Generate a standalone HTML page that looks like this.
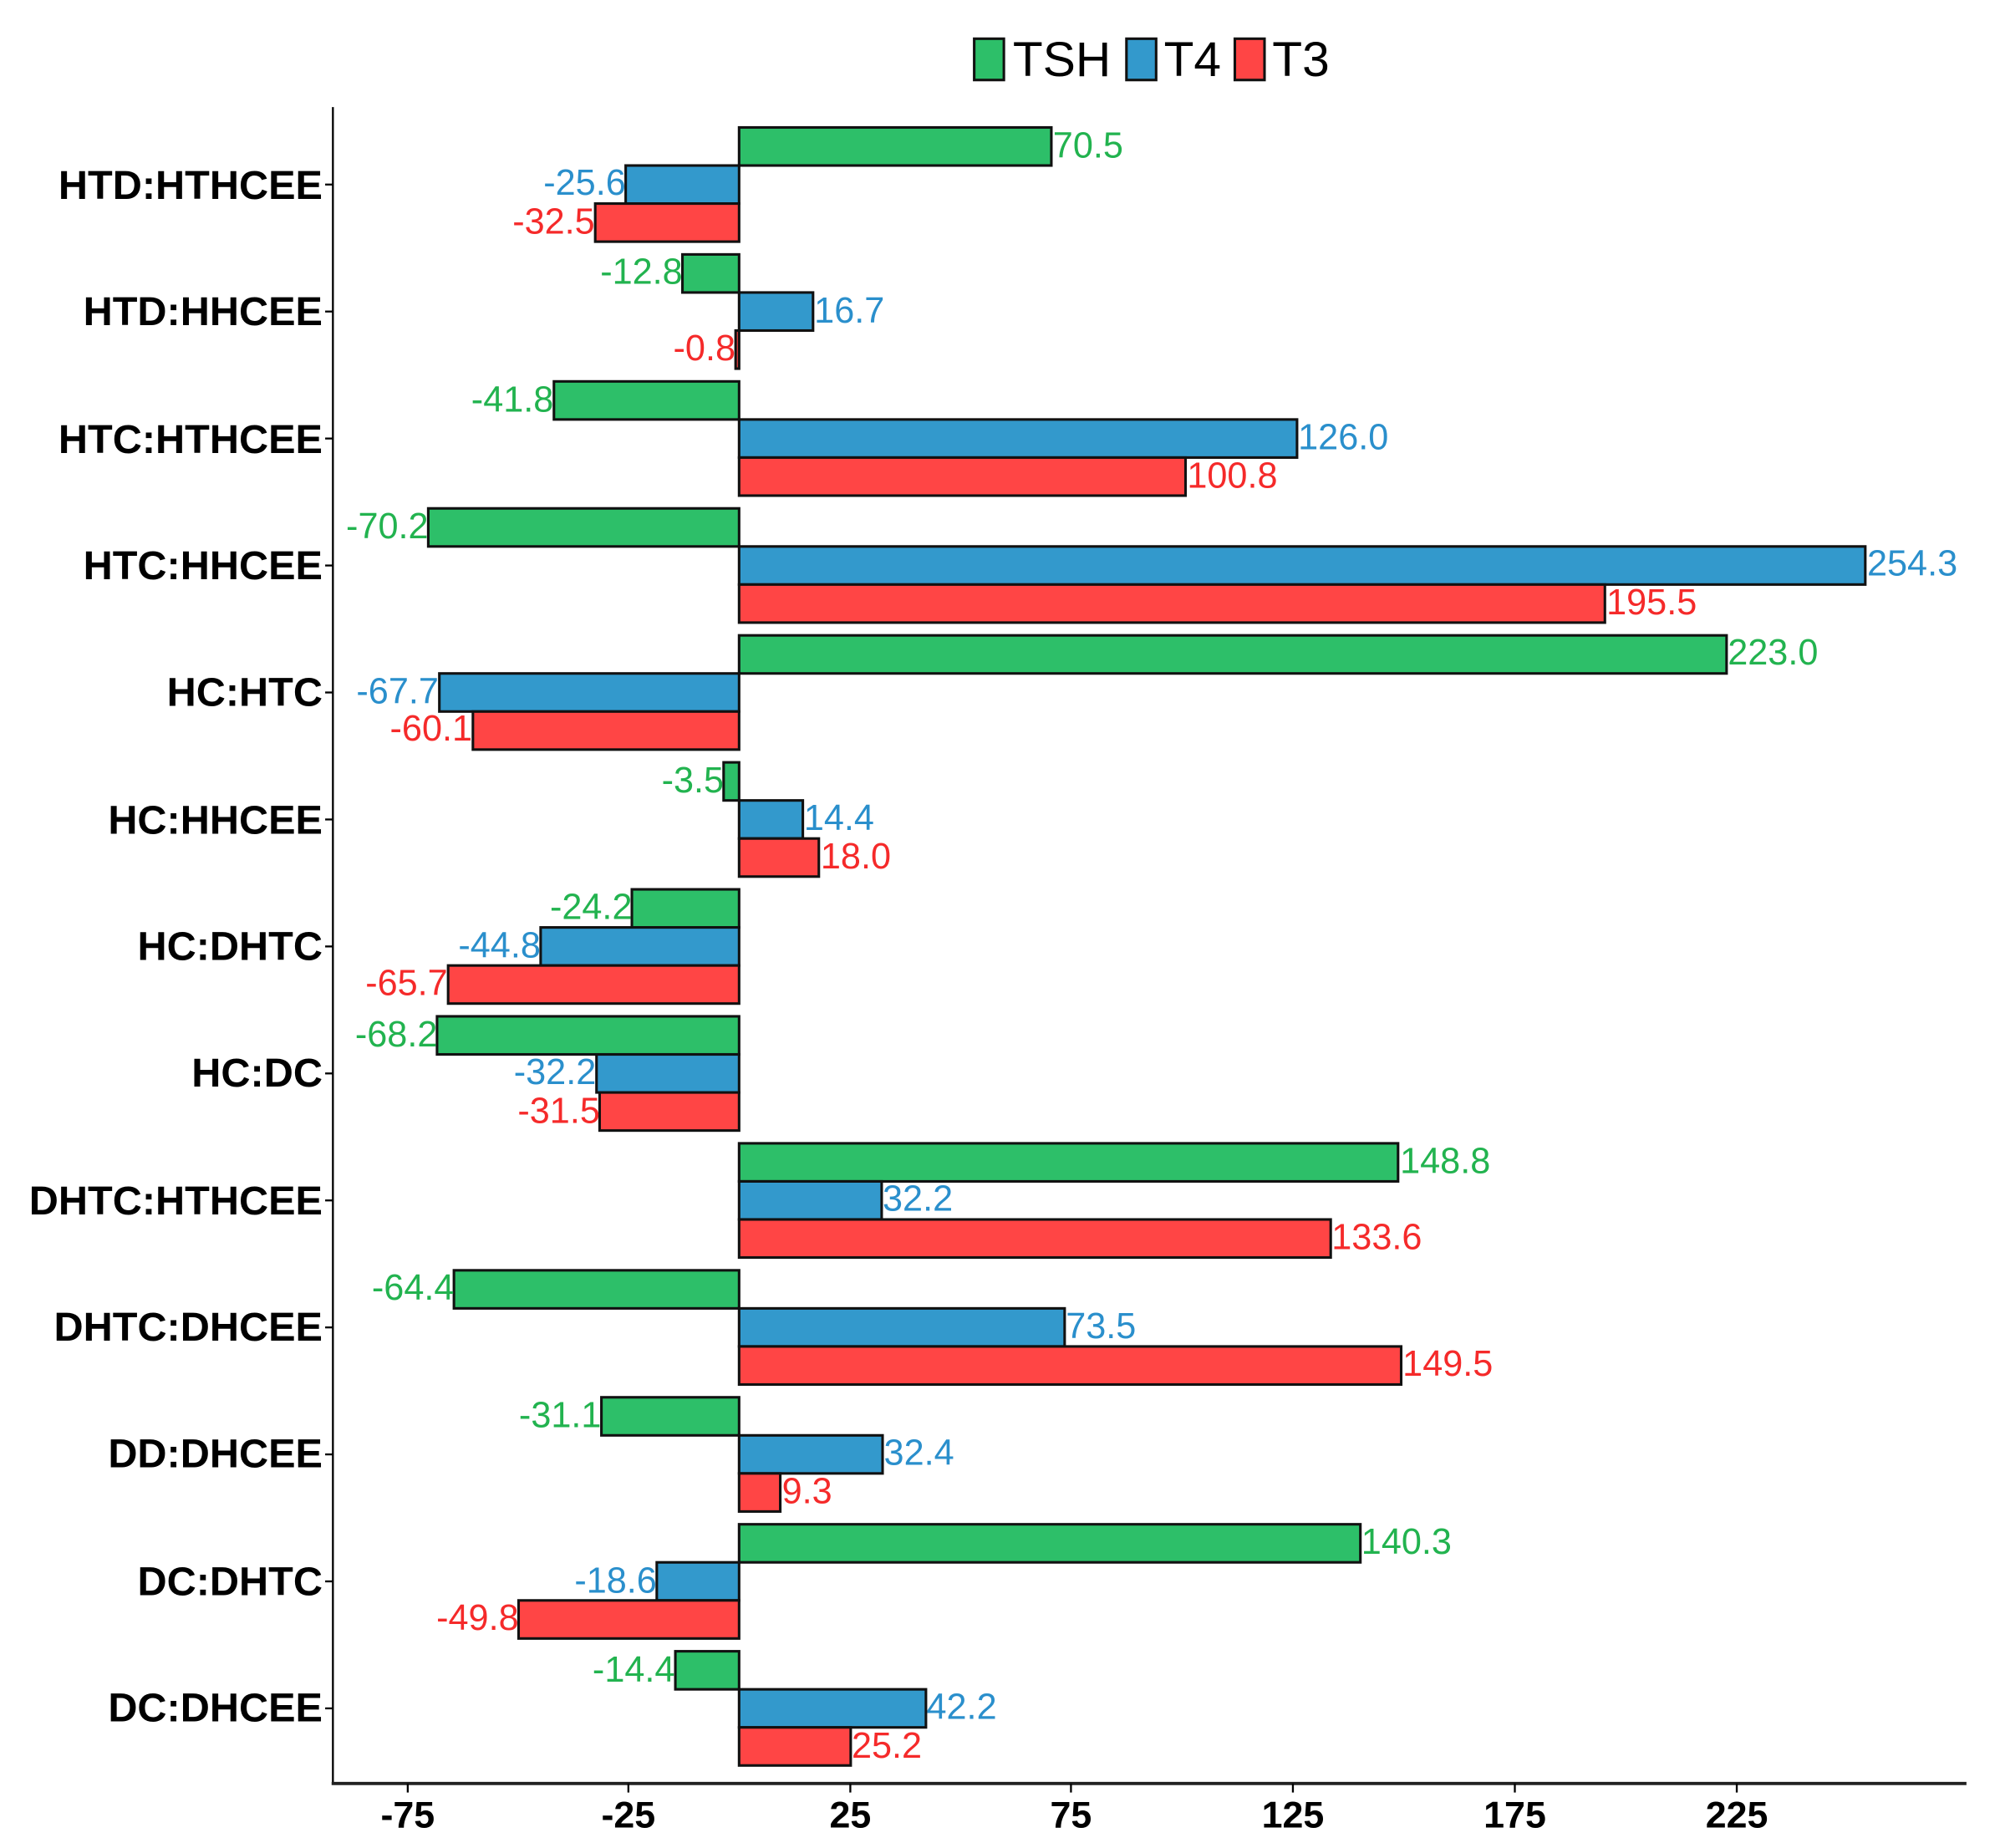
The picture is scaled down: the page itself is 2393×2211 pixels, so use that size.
<!DOCTYPE html>
<html><head><meta charset="utf-8"><style>
html,body{margin:0;padding:0;background:#fff;}
svg{display:block;}
.c{font-family:"Liberation Sans",sans-serif;font-weight:bold;font-size:31.5px;fill:#000;text-anchor:end;}
.t{font-family:"Liberation Sans",sans-serif;font-weight:bold;font-size:29px;fill:#000;text-anchor:middle;}
.v{font-family:"Liberation Sans",sans-serif;font-size:28px;}
.g{fill:#22b34f}.b{fill:#2a8fcc}.r{fill:#f52a2a}
.e{text-anchor:end}
rect{stroke:#111;stroke-width:2;}
.G{fill:#2dbf69}.B{fill:#3399cc}.R{fill:#ff4545}
</style></head><body>
<svg width="2393" height="2211" viewBox="0 0 1550 1432" preserveAspectRatio="none" xmlns="http://www.w3.org/2000/svg">
<rect class="G" x="755" y="30" width="23" height="32"/>
<text x="785" y="59" style="font-family:'Liberation Sans',sans-serif;font-size:38px">TSH</text>
<rect class="B" x="873" y="30" width="23" height="32"/>
<text x="902" y="59" style="font-family:'Liberation Sans',sans-serif;font-size:38px">T4</text>
<rect class="R" x="957" y="30" width="23" height="32"/>
<text x="986" y="59" style="font-family:'Liberation Sans',sans-serif;font-size:38px">T3</text>
<line x1="258" y1="83" x2="258" y2="1383" stroke="#000" stroke-width="1.5"/>
<line x1="257" y1="1382" x2="1524" y2="1382" stroke="#222" stroke-width="2.5"/>
<g stroke="#000" stroke-width="1.5">
<line x1="316" y1="1382" x2="316" y2="1389"/><line x1="487" y1="1382" x2="487" y2="1389"/><line x1="659" y1="1382" x2="659" y2="1389"/><line x1="830" y1="1382" x2="830" y2="1389"/><line x1="1002" y1="1382" x2="1002" y2="1389"/><line x1="1174" y1="1382" x2="1174" y2="1389"/><line x1="1346" y1="1382" x2="1346" y2="1389"/>
<line x1="252" y1="143" x2="258" y2="143"/><line x1="252" y1="241.4" x2="258" y2="241.4"/><line x1="252" y1="339.8" x2="258" y2="339.8"/><line x1="252" y1="438.2" x2="258" y2="438.2"/><line x1="252" y1="536.6" x2="258" y2="536.6"/><line x1="252" y1="635" x2="258" y2="635"/><line x1="252" y1="733.4" x2="258" y2="733.4"/><line x1="252" y1="831.8" x2="258" y2="831.8"/><line x1="252" y1="930.2" x2="258" y2="930.2"/><line x1="252" y1="1028.6" x2="258" y2="1028.6"/><line x1="252" y1="1127" x2="258" y2="1127"/><line x1="252" y1="1225.4" x2="258" y2="1225.4"/><line x1="252" y1="1323.8" x2="258" y2="1323.8"/>
</g>
<text class="t" x="316" y="1416">-75</text><text class="t" x="487" y="1416">-25</text><text class="t" x="659" y="1416">25</text><text class="t" x="830" y="1416">75</text><text class="t" x="1002" y="1416">125</text><text class="t" x="1174" y="1416">175</text><text class="t" x="1346" y="1416">225</text>
<text class="c" x="250" y="154">HTD:HTHCEE</text>
<text class="c" x="250" y="252">HTD:HHCEE</text>
<text class="c" x="250" y="351">HTC:HTHCEE</text>
<text class="c" x="250" y="449">HTC:HHCEE</text>
<text class="c" x="250" y="547">HC:HTC</text>
<text class="c" x="250" y="646">HC:HHCEE</text>
<text class="c" x="250" y="744">HC:DHTC</text>
<text class="c" x="250" y="842">HC:DC</text>
<text class="c" x="250" y="941">DHTC:HTHCEE</text>
<text class="c" x="250" y="1039">DHTC:DHCEE</text>
<text class="c" x="250" y="1137">DD:DHCEE</text>
<text class="c" x="250" y="1236">DC:DHTC</text>
<text class="c" x="250" y="1334">DC:DHCEE</text>
<rect class="G" x="572.8" y="98.75" width="242" height="29.5"/><text class="v g" x="816" y="122">70.5</text>
<rect class="B" x="484.9" y="128.25" width="87.9" height="29.5"/><text class="v b e" x="485" y="151">-25.6</text>
<rect class="R" x="461.3" y="157.75" width="111.5" height="29.5"/><text class="v r e" x="461" y="181">-32.5</text>
<rect class="G" x="528.9" y="197.15" width="43.9" height="29.5"/><text class="v g e" x="529" y="220">-12.8</text>
<rect class="B" x="572.8" y="226.65" width="57.3" height="29.5"/><text class="v b" x="631" y="250">16.7</text>
<rect class="R" x="570.1" y="256.15" width="2.7" height="29.5"/><text class="v r e" x="570" y="279">-0.8</text>
<rect class="G" x="429.3" y="295.55" width="143.5" height="29.5"/><text class="v g e" x="429" y="319">-41.8</text>
<rect class="B" x="572.8" y="325.05" width="432.4" height="29.5"/><text class="v b" x="1006" y="348">126.0</text>
<rect class="R" x="572.8" y="354.55" width="346" height="29.5"/><text class="v r" x="920" y="378">100.8</text>
<rect class="G" x="331.9" y="393.95" width="240.9" height="29.5"/><text class="v g e" x="332" y="417">-70.2</text>
<rect class="B" x="572.8" y="423.45" width="872.8" height="29.5"/><text class="v b" x="1447" y="446">254.3</text>
<rect class="R" x="572.8" y="452.95" width="671" height="29.5"/><text class="v r" x="1245" y="476">195.5</text>
<rect class="G" x="572.8" y="492.35" width="765.3" height="29.5"/><text class="v g" x="1339" y="515">223.0</text>
<rect class="B" x="340.5" y="521.85" width="232.3" height="29.5"/><text class="v b e" x="340" y="545">-67.7</text>
<rect class="R" x="366.5" y="551.35" width="206.3" height="29.5"/><text class="v r e" x="366" y="574">-60.1</text>
<rect class="G" x="560.8" y="590.75" width="12" height="29.5"/><text class="v g e" x="561" y="614">-3.5</text>
<rect class="B" x="572.8" y="620.25" width="49.4" height="29.5"/><text class="v b" x="623" y="643">14.4</text>
<rect class="R" x="572.8" y="649.75" width="61.8" height="29.5"/><text class="v r" x="636" y="673">18.0</text>
<rect class="G" x="489.7" y="689.15" width="83.1" height="29.5"/><text class="v g e" x="490" y="712">-24.2</text>
<rect class="B" x="419" y="718.65" width="153.8" height="29.5"/><text class="v b e" x="419" y="742">-44.8</text>
<rect class="R" x="347.3" y="748.15" width="225.5" height="29.5"/><text class="v r e" x="347" y="771">-65.7</text>
<rect class="G" x="338.7" y="787.55" width="234.1" height="29.5"/><text class="v g e" x="339" y="811">-68.2</text>
<rect class="B" x="462.3" y="817.05" width="110.5" height="29.5"/><text class="v b e" x="462" y="840">-32.2</text>
<rect class="R" x="464.7" y="846.55" width="108.1" height="29.5"/><text class="v r e" x="465" y="870">-31.5</text>
<rect class="G" x="572.8" y="885.95" width="510.7" height="29.5"/><text class="v g" x="1085" y="909">148.8</text>
<rect class="B" x="572.8" y="915.45" width="110.5" height="29.5"/><text class="v b" x="684" y="938">32.2</text>
<rect class="R" x="572.8" y="944.95" width="458.5" height="29.5"/><text class="v r" x="1032" y="968">133.6</text>
<rect class="G" x="351.8" y="984.35" width="221" height="29.5"/><text class="v g e" x="352" y="1007">-64.4</text>
<rect class="B" x="572.8" y="1013.85" width="252.3" height="29.5"/><text class="v b" x="826" y="1037">73.5</text>
<rect class="R" x="572.8" y="1043.35" width="513.1" height="29.5"/><text class="v r" x="1087" y="1066">149.5</text>
<rect class="G" x="466.1" y="1082.75" width="106.7" height="29.5"/><text class="v g e" x="466" y="1106">-31.1</text>
<rect class="B" x="572.8" y="1112.25" width="111.2" height="29.5"/><text class="v b" x="685" y="1135">32.4</text>
<rect class="R" x="572.8" y="1141.75" width="31.9" height="29.5"/><text class="v r" x="606" y="1165">9.3</text>
<rect class="G" x="572.8" y="1181.15" width="481.5" height="29.5"/><text class="v g" x="1055" y="1204">140.3</text>
<rect class="B" x="509" y="1210.65" width="63.8" height="29.5"/><text class="v b e" x="509" y="1234">-18.6</text>
<rect class="R" x="401.9" y="1240.15" width="170.9" height="29.5"/><text class="v r e" x="402" y="1263">-49.8</text>
<rect class="G" x="523.4" y="1279.55" width="49.4" height="29.5"/><text class="v g e" x="523" y="1303">-14.4</text>
<rect class="B" x="572.8" y="1309.05" width="144.8" height="29.5"/><text class="v b" x="718" y="1332">42.2</text>
<rect class="R" x="572.8" y="1338.55" width="86.5" height="29.5"/><text class="v r" x="660" y="1362">25.2</text>
</svg>
</body></html>
